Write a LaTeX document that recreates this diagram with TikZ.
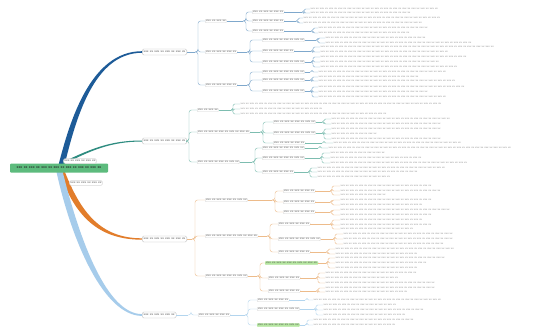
\documentclass[tikz,border=0pt]{standalone}
\usetikzlibrary{calc}

\definecolor{rootgreen}{HTML}{5DBB7D}
\definecolor{hlgreen}{HTML}{B5E6A0}
\definecolor{blueA}{HTML}{1D5B98}
\definecolor{tealA}{HTML}{2E8C80}
\definecolor{orangeA}{HTML}{E27D2B}
\definecolor{skyA}{HTML}{A6CCEB}
\definecolor{brace1}{HTML}{7FA8CC}
\definecolor{brace2}{HTML}{7DBDB0}
\definecolor{brace3}{HTML}{EDBB8A}
\definecolor{brace4}{HTML}{B3D5EE}

% placeholder words (the text of the reference is not legible)
\newcommand\ph[1]{\foreach\q in {1,...,#1}{xxx xx\ifnum\q<#1\ \fi}}

% brace from a node to its child nodes
\newcommand\kids[4]{%
  \coordinate (#1t) at (#1.east -| #3,0);
  \draw[#2] (#1.east) -- (#1t);
  \foreach \ch in {#4}
    \draw[#2, rounded corners=2.5pt] (#1t) -- ++(3,0) |- (\ch.west);}

% brace from a node to its lines of text
\newcommand\leaves[5]{%
  \coordinate (#1t) at (#1.east -| #3,0);
  \draw[#2] (#1.east) -- (#1t);
  \foreach \y/\n [count=\m] in {#5} {
    \node[leaf] (#1-\m) at (#4,\y) {\ph{\n}};
    \draw[#2, rounded corners=1.5pt] (#1t) -- ++(2,0) |- (#1-\m.west);
  }}

\tikzset{
  root/.style={fill=rootgreen, rounded corners=1pt, minimum width=98pt, minimum height=9pt,
    font=\fontsize{3.8}{4}\sffamily\bfseries, text=black!85},
  topic/.style={draw=gray!55, fill=white, rounded corners=1.5pt, line width=0.3pt,
    minimum height=6pt, inner sep=1.5pt, font=\fontsize{3.4}{3.8}\sffamily, text=black!80},
  sub/.style={draw=gray!35, fill=white, rounded corners=1pt, line width=0.25pt, inner sep=1pt,
    font=\fontsize{3.3}{3.8}\sffamily, text=black!75, anchor=west},
  hilite/.style={fill=hlgreen, draw=hlgreen},
  leaf/.style={anchor=west, inner sep=0.5pt, font=\fontsize{2.9}{3.4}\sffamily, text=black!50},
  tw1/.style={draw=brace1, line width=0.4pt},
  tw2/.style={draw=brace2, line width=0.4pt},
  tw3/.style={draw=brace3, line width=0.4pt},
  tw4/.style={draw=brace4, line width=0.4pt}
}

\begin{document}
\begin{tikzpicture}[x=1pt, y=-1pt]
\fill[white] (0,0) rectangle (549,329);
\useasboundingbox (0,0) rectangle (549,329);

% main topics
\node[topic, anchor=west] (B1) at (142,52) {\ph{4}};
\node[topic, anchor=west] (B2) at (142,141) {\ph{4}};
\node[topic, anchor=west] (B3) at (142,239) {\ph{4}};
\node[topic, anchor=west] (B4) at (142,315) {\ph{3}};

% thick branches
\fill[blueA] (58.5,165) .. controls (70,120) and (91,51.2) .. ($(B1.west)+(0,-0.8)$)
  -- ($(B1.west)+(0,0.8)$) .. controls (93,52.8) and (75.5,121) .. (64.5,165) -- cycle;
\fill[tealA] (63,162) .. controls (90,149.3) and (110,140.4) .. ($(B2.west)+(0,-0.5)$)
  -- ($(B2.west)+(0,0.5)$) .. controls (110,141.6) and (90,151) .. (63,164.5) -- cycle;
\fill[orangeA] (59.5,172) .. controls (75,217) and (99,239.7) .. ($(B3.west)+(0,0.7)$)
  -- ($(B3.west)+(0,-0.7)$) .. controls (101,238.3) and (81,213) .. (64.5,171) -- cycle;
\fill[skyA] (56.5,172) .. controls (72,242) and (104,315.8) .. ($(B4.west)+(0,0.9)$)
  -- ($(B4.west)+(0,-0.9)$) .. controls (106.5,314.2) and (79,238) .. (62.5,171) -- cycle;

\node[root] (root) at (59,168) {\ph{7}};
\node[topic, inner sep=1pt, minimum height=5pt] (L1) at (80,161) {\ph{3}};
\node[topic, inner sep=1pt, minimum height=5pt] (L2) at (86,183) {\ph{3}};

% first branch
\node[sub] (C11) at (205,21) {\ph{2}};
\node[sub] (C12) at (205,52) {\ph{3}};
\node[sub] (C13) at (205,85) {\ph{3}};
\kids{B1}{tw1}{195}{C11,C12,C13}
\node[sub] (D111) at (252,12) {\ph{3}};
\node[sub] (D112) at (252,21) {\ph{3}};
\node[sub] (D113) at (252,31) {\ph{3}};
\kids{C11}{tw1}{243}{D111,D112,D113}
\node[sub] (D121) at (262,40) {\ph{4}};
\node[sub] (D122) at (262,51) {\ph{3}};
\node[sub] (D123) at (262,62) {\ph{4}};
\kids{C12}{tw1}{247}{D121,D122,D123}
\node[sub] (D131) at (262,72) {\ph{4}};
\node[sub] (D132) at (262,80) {\ph{4}};
\node[sub] (D133) at (262,91) {\ph{4}};
\kids{C13}{tw1}{247}{D131,D132,D133}
\leaves{D111}{tw1}{302}{310}{9/14,13/11}
\leaves{D112}{tw1}{296}{303}{18/15,23/13}
\leaves{D113}{tw1}{311}{318}{28/12,33/10}
\leaves{D121}{tw1}{316}{325}{38/11,43/16}
\leaves{D122}{tw1}{311}{320}{47/19,52/14}
\leaves{D123}{tw1}{311}{320}{57/16,62/13,67/15}
\leaves{D131}{tw1}{310}{318}{72/14}
\leaves{D132}{tw1}{310}{318}{77/11,81/15}
\leaves{D133}{tw1}{310}{318}{87/16,92/12,97/14}

% second branch
\node[sub] (C21) at (197,110) {\ph{2}};
\node[sub] (C22) at (197,132) {\ph{5}};
\node[sub] (C23) at (197,162) {\ph{4}};
\kids{B2}{tw2}{186}{C21,C22,C23}
\leaves{C21}{tw2}{231}{240}{104/22,109/9,114/16}
\node[sub] (D221) at (273,122) {\ph{4}};
\node[sub] (D222) at (273,133) {\ph{4}};
\node[sub] (D223) at (273,143) {\ph{3}};
\kids{C22}{tw2}{260}{D221,D222,D223}
\leaves{D221}{tw2}{322}{331}{119/13,124/12}
\leaves{D222}{tw2}{322}{331}{129/12,134/5,139/12}
\leaves{D223}{tw2}{322}{333}{143/14}
\node[sub] (D231) at (262,148) {\ph{4}};
\node[sub] (D232) at (262,158) {\ph{4}};
\node[sub] (D233) at (262,172) {\ph{3}};
\kids{C23}{tw2}{252}{D231,D232,D233}
\leaves{D231}{tw2}{318}{328}{148/20}
\leaves{D232}{tw2}{320}{330}{153/6,158/10,163/15}
\leaves{D233}{tw2}{308}{317}{168/14,172/11,177/8}

% third branch
\node[sub] (C31) at (205,200) {\ph{4}};
\node[sub] (C32) at (205,236) {\ph{5}};
\node[sub] (C33) at (205,276) {\ph{4}};
\kids{B3}{tw3}{192}{C31,C32,C33}
\node[sub] (D311) at (283,191) {\ph{3}};
\node[sub] (D312) at (283,202) {\ph{3}};
\node[sub] (D313) at (283,212) {\ph{3}};
\kids{C31}{tw3}{272}{D311,D312,D313}
\node[sub] (D321) at (278,224) {\ph{3}};
\node[sub] (D322) at (278,239) {\ph{4}};
\node[sub] (D323) at (278,252) {\ph{3}};
\kids{C32}{tw3}{267}{D321,D322,D323}
\node[sub, hilite] (D331) at (265,263) {\ph{5}};
\node[sub] (D332) at (268,278) {\ph{3}};
\node[sub] (D333) at (268,291) {\ph{3}};
\kids{C33}{tw3}{257}{D331,D332,D333}
\leaves{D311}{tw3}{330}{340}{186/10,191/11,195/5}
\leaves{D312}{tw3}{330}{340}{200/10,205/9}
\leaves{D313}{tw3}{330}{340}{210/12,215/10}
\leaves{D321}{tw3}{330}{340}{220/9,225/10,229/8}
\leaves{D322}{tw3}{333}{343}{234/12,239/12,244/11}
\leaves{D323}{tw3}{326}{335}{249/13,254/9}
\leaves{D331}{tw3}{326}{335}{258/12,263/10,268/9}
\leaves{D332}{tw3}{316}{325}{273/10,278/8,283/12}
\leaves{D333}{tw3}{316}{325}{288/12,292/9}

% fourth branch
\node[sub] (C41) at (198,315) {\ph{3}};
\kids{B4}{tw4}{188}{C41}
\node[sub] (D411) at (257,300) {\ph{3}};
\node[sub] (D412) at (257,309) {\ph{4}};
\node[sub, hilite] (D413) at (257,325) {\ph{4}};
\kids{C41}{tw4}{245}{D411,D412,D413}
\leaves{D411}{tw4}{305}{313}{300/14}
\leaves{D412}{tw4}{314}{323}{305/8,310/11,315/9}
\leaves{D413}{tw4}{305}{313}{320/11,325/9}
\end{tikzpicture}
\end{document}
